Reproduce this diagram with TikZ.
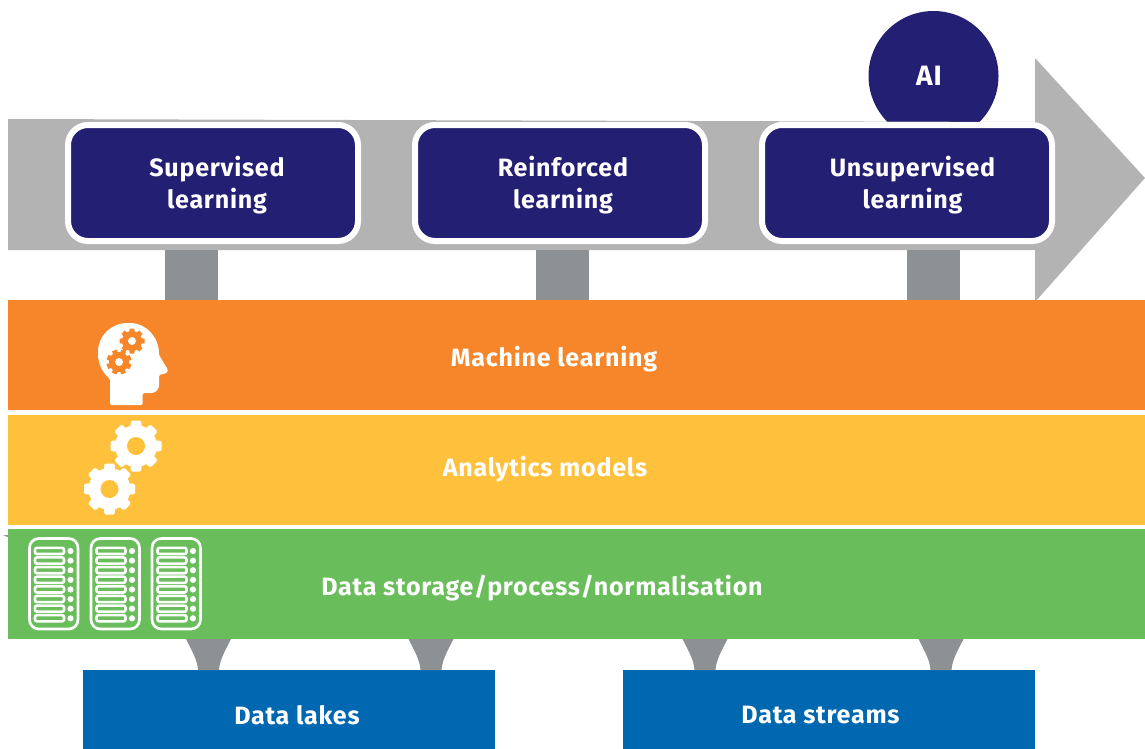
\documentclass[tikz,border=0pt]{standalone}
\usepackage{fontspec}
\setmainfont[LetterSpace=3]{Fira Sans}
\definecolor{navy}{HTML}{231F73}
\definecolor{orangeb}{HTML}{F7862B}
\definecolor{yellowb}{HTML}{FFC03B}
\definecolor{greenb}{HTML}{69BE5B}
\definecolor{blueb}{HTML}{0067B1}
\definecolor{arrowgray}{HTML}{B3B3B3}
\definecolor{postgray}{HTML}{8E9194}
\tikzset{
  band/.style={inner sep=0pt,minimum height=82.5pt,minimum width=852.75pt,anchor=north west},
  lbl/.style={text=white,font=\fontsize{18.8}{24}\selectfont\bfseries,align=center,inner sep=0pt},
  learnbox/.style={fill=navy,draw=white,line width=4.5pt,rounded corners=15pt,minimum width=217.5pt,minimum height=87pt,inner sep=0pt,anchor=north west},
  sourcebox/.style={fill=blueb,minimum width=309pt,minimum height=59.25pt,inner sep=0pt,anchor=north west},
  post/.style={draw=postgray,line width=39.75pt},
  funnel/.style={fill=postgray},
  rack/.style={draw=white,line width=2pt,rounded corners=7pt},
  slot/.style={draw=white,line width=1.9pt,rounded corners=1.5pt},
}
\newcommand{\mygear}[5]{%
  \begin{scope}[shift={(#1,#2)}]
    \fill[white] (0,0) circle ({0.82*#3});
    \foreach \a in {0,45,...,315}{
      \fill[white,rotate=\a,rounded corners=1pt] ({-0.28*#3},0) -- ({-0.2*#3},{#3}) -- ({0.2*#3},{#3}) -- ({0.28*#3},0) -- cycle;
    }
    \fill[#5] (0,0) circle (#4);
  \end{scope}}
\newcommand{\mysmallgear}[3]{%
  \begin{scope}[shift={(#1,#2)}]
    \fill[orangeb] (0,0) circle (10);
    \foreach \a in {0,45,...,315}{\fill[orangeb,rotate={\a+#3}] (-3.2,0) -- (-2.4,12.5) -- (2.4,12.5) -- (3.2,0) -- cycle;}
    \fill[white] (0,0) circle (4);
  \end{scope}}
\newcommand{\myrack}[1]{%
  \begin{scope}[shift={(#1,0)}]
    \draw[rack] (1,538.5) rectangle (49.5,629);
    \foreach \k in {0,...,7}{
      \draw[slot] (6.5,{547.8+9.62*\k}) rectangle (35.5,{554+9.62*\k});
      \fill[white] (42,{551+9.62*\k}) circle (3.1);
    }
  \end{scope}}
\begin{document}
\begin{tikzpicture}[x=0.75pt,y=-0.75pt]
\useasboundingbox (0,0) rectangle (1145,749);
\clip (0,0) rectangle (1145,749);
% AI circle behind the arrow
\node[circle,fill=navy,minimum size=97.5pt,inner sep=0pt] (ai) at (933.5,76) {};
\node[lbl,font=\fontsize{21}{24}\selectfont\bfseries] (ailabel) at (929,76) {AI};
% main arrow
\fill[arrowgray] (8,119) -- (1035,122) -- (1035,58) -- (1145,178) -- (1035,302) -- (1035,250) -- (8,250) -- cycle;
% layers
\node[band,fill=orangeb] (ml) at (8,300) {};
\node[band,fill=yellowb] (am) at (8,415) {};
\node[band,fill=greenb] (ds) at (8,529) {};
\fill[postgray] (3,535.5) -- (8,535) -- (8,537) -- cycle;
% posts
\coordinate (p1) at (191.5,250);
\coordinate (p2) at (562.5,250);
\coordinate (p3) at (933.5,250);
\draw[post] (p1) -- (p1 |- ml.north);
\draw[post] (p2) -- (p2 |- ml.north);
\draw[post] (p3) -- (p3 |- ml.north);
% learning boxes
\node[learnbox] (sl) at (65,122) {};
\node[learnbox] (rl) at (412,122) {};
\node[learnbox] (ul) at (759,122) {};
\node[lbl] (sllabel) at (217,185) {Supervised\\[0pt]learning};
\node[lbl] (rllabel) at (563,185) {Reinforced\\[0pt]learning};
\node[lbl] (ullabel) at (912.5,185) {Unsupervised\\[0pt]learning};
% layer labels
\node[lbl] (mllabel) at (554,359) {Machine learning};
\node[lbl] (amlabel) at (545,469) {Analytics models};
\node[lbl] (dslabel) at (542,588) {Data storage/process/normalisation};
% source boxes
\node[sourcebox] (lakes) at (83,670) {};
\node[sourcebox] (streams) at (623,670) {};
\node[lbl] (lakeslabel) at (297,715) {Data lakes};
\node[lbl] (streamslabel) at (820.5,715) {Data streams};
% funnels
\foreach \c in {208.5,431,705,941}{
  \fill[funnel] ({\c-22.5},639) .. controls ({\c-17},650) and ({\c-11},660) .. ({\c-10.5},670) -- ({\c+10.5},670) .. controls ({\c+11},660) and ({\c+17},650) .. ({\c+22.5},639) -- cycle;
}
% head icon
\fill[white,rounded corners=1pt] (110,405) -- (142.7,405) -- (142.7,393) -- (150,393)
  .. controls (156,393) and (159,389) .. (159,384) -- (159,375) -- (165,373.5)
  .. controls (168,372.5) and (168,369.5) .. (166.5,367.5) -- (159,355)
  .. controls (159,337) and (146,323) .. (129,323)
  .. controls (111,323) and (98,336) .. (98,353)
  .. controls (98,364) and (103,373) .. (110,379) -- cycle;
\mysmallgear{132}{341}{0}
\mysmallgear{119}{362}{22}
% gears icon
\mygear{136}{446}{25.5}{9}{yellowb}
\mygear{109.5}{489}{25.5}{9}{yellowb}
% server icons
\myrack{28.5}
\myrack{90}
\myrack{151}
\end{tikzpicture}
\end{document}
